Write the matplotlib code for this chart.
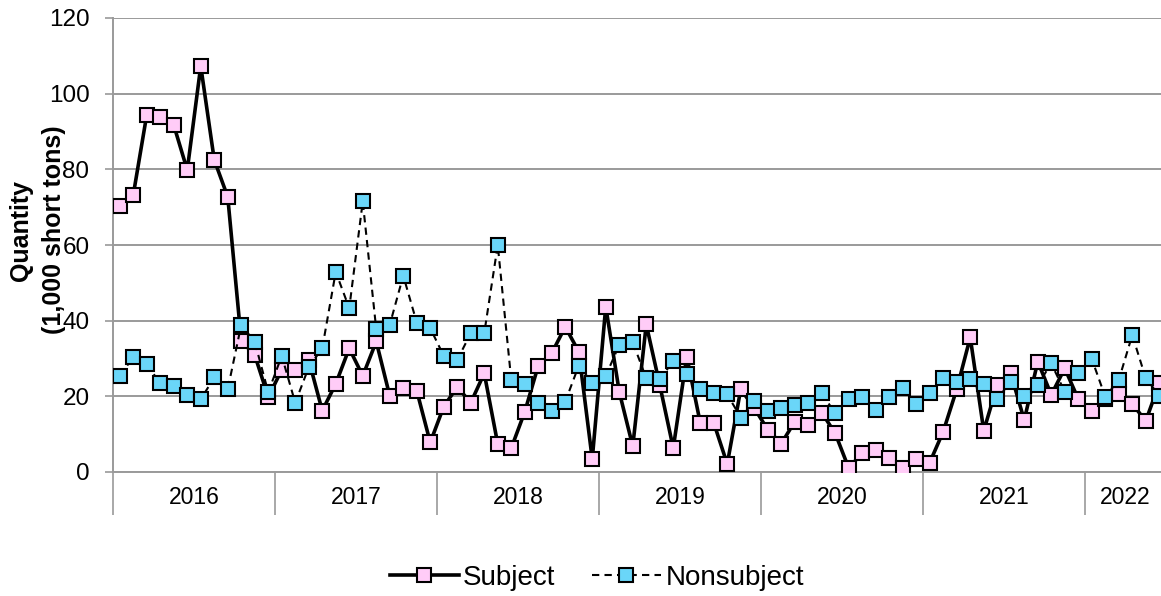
import numpy as np
import matplotlib
matplotlib.use("Agg")
import matplotlib.pyplot as plt

plt.rcParams['font.family'] = ['Liberation Sans', 'DejaVu Sans']

years = ['2016', '2017', '2018', '2019', '2020', '2021', '2022']
months_per_year = [12, 12, 12, 12, 12, 12, 6]

# monthly quantities, 1,000 short tons (Jan 2016 - Jun 2022)
subject = [
    70.3, 73.2, 94.4, 93.8, 91.7, 79.8, 107.3, 82.5, 72.7, 34.7, 30.9, 19.8,  # 2016
    27.0, 27.0, 29.6, 16.2, 23.3, 32.7, 25.4, 34.5, 20.1, 22.1, 21.5, 7.8,    # 2017
    17.3, 22.5, 18.3, 26.1, 7.4, 6.3, 15.9, 28.1, 31.4, 38.4, 31.8, 3.4,      # 2018
    43.7, 21.2, 6.8, 39.0, 23.0, 6.3, 30.5, 13.0, 13.0, 2.1, 21.9, 16.9,      # 2019
    11.2, 7.5, 13.3, 12.4, 15.7, 10.2, 1.0, 5.1, 5.8, 3.6, 1.0, 3.4,          # 2020
    2.5, 10.7, 21.9, 35.6, 10.9, 23.0, 26.1, 13.7, 29.2, 20.4, 27.4, 19.3,    # 2021
    16.0, 19.4, 20.6, 18.0, 13.5, 23.4,                                      # 2022
]
nonsubject = [
    25.5, 30.3, 28.5, 23.4, 22.7, 20.4, 19.2, 25.0, 21.9, 38.9, 34.4, 21.1,   # 2016
    30.7, 18.3, 27.7, 32.7, 52.9, 43.3, 71.5, 37.7, 38.9, 51.9, 39.5, 38.0,   # 2017
    30.7, 29.6, 36.7, 36.7, 60.0, 24.3, 23.3, 18.2, 16.2, 18.6, 28.1, 23.6,   # 2018
    25.4, 33.6, 34.3, 24.8, 24.5, 29.3, 25.8, 21.9, 20.8, 20.5, 14.4, 18.7,   # 2019
    16.1, 16.8, 17.7, 18.3, 20.8, 15.5, 19.3, 19.9, 16.4, 19.7, 22.1, 17.9,   # 2020
    21.0, 24.8, 23.9, 24.5, 23.3, 19.3, 23.9, 20.1, 23.0, 28.7, 21.2, 26.1,   # 2021
    29.9, 19.9, 24.3, 36.2, 24.8, 20.2,                                      # 2022
]

pink = '#FFCCF7'
blue = '#6AD6F8'
grid_gray = '#9A9A9A'

fig = plt.figure(figsize=(11.61, 5.96), dpi=100)
ax = fig.add_axes([113 / 1161, 124 / 596, 1053 / 1161, 454 / 596])

x = np.arange(len(subject))
ax.plot(x, subject, color='black', lw=2.6, ls='-', marker='s', ms=10,
        mfc=pink, mec='black', mew=1.5, label='Subject', zorder=3)
ax.plot(x, nonsubject, color='black', lw=1.5, ls=(0, (3.5, 2.5)), marker='s', ms=10,
        mfc=blue, mec='black', mew=1.5, label='Nonsubject', zorder=4)

ax.set_ylim(0, 120)
ax.set_yticks(np.arange(0, 121, 20))
ax.set_xlim(-0.5, len(subject) - 0.5)
ax.yaxis.grid(True, color=grid_gray, lw=1.4)
ax.set_axisbelow(True)

# year groups: separators as long minor ticks, labels centred in each group
edges = np.concatenate([[0], np.cumsum(months_per_year)]) - 0.5
centers = (edges[:-1] + edges[1:]) / 2
ax.set_xticks(centers)
ax.set_xticklabels(years, fontsize=16.5)
ax.set_xticks(edges[:-1], minor=True)
ax.tick_params(axis='x', which='major', length=0, pad=10)
ax.tick_params(axis='x', which='minor', length=31, width=1.2, color=grid_gray)
ax.tick_params(axis='y', length=6, width=1.2, color=grid_gray, pad=11, labelsize=17.5)

for side in ['top', 'right']:
    ax.spines[side].set_visible(False)
for side in ['left', 'bottom']:
    ax.spines[side].set_color(grid_gray)
    ax.spines[side].set_linewidth(1.4)
ax.spines['left'].set_bounds(0, 120)

ax.set_ylabel('Quantity\n(1,000 short tons)', fontsize=18, fontweight='bold',
              linespacing=1.45)
ax.yaxis.set_label_coords(-0.0446, 0.533)

fig.legend(loc='center', bbox_to_anchor=(0.514, 0.03), ncol=2, frameon=False,
           fontsize=20, handlelength=2.5, numpoints=1, columnspacing=1.3,
           handletextpad=0.15)

fig.savefig('out.png', dpi=100)
